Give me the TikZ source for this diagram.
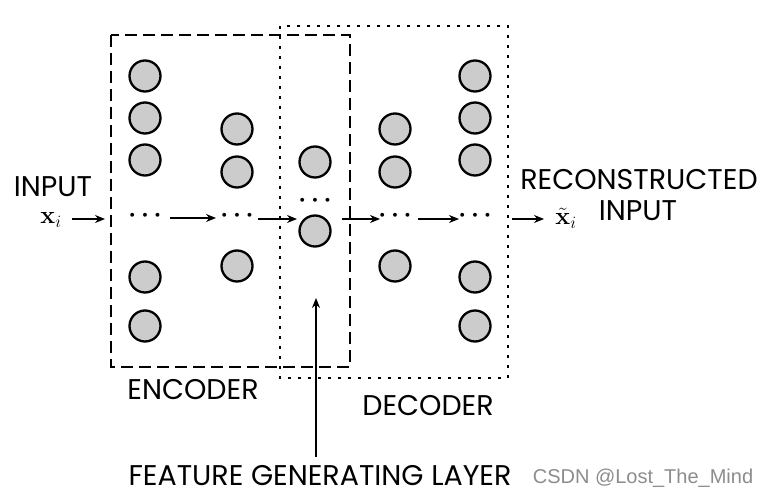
\documentclass[tikz,border=0pt]{standalone}
\usepackage[no-math]{fontspec}
\setmainfont{Poppins}
\newfontfamily\wmfont{Liberation Sans}
\usetikzlibrary{arrows.meta}
\begin{document}
\begin{tikzpicture}[x=1pt,y=-1pt,
  neuron/.style={circle,draw=black,fill=black!20,line width=2.3pt,minimum size=31pt,inner sep=0pt},
  dotsnode/.style={inner sep=0pt,font=\fontsize{30}{30}\selectfont\boldmath},
  lbl/.style={inner sep=0pt,text depth=0pt,text height=20pt,font=\fontsize{28.5}{30}\selectfont},
  mathlbl/.style={inner sep=0pt,font=\fontsize{24}{24}\selectfont},
  conn/.style={line width=1.2pt,-{Stealth[length=10pt,width=8pt]}},
  encbox/.style={line width=2.8pt,dash pattern=on 12pt off 6pt},
  decbox/.style={line width=2.8pt,dash pattern=on 3pt off 7pt,line cap=butt}]
\useasboundingbox (0,0) rectangle (768,494);
% boxes
\draw[encbox] (111,35) rectangle (350,367);
\draw[decbox] (280,26) rectangle (508,378);
% neurons
\foreach \y/\n in {76/a1,118/a2,160/a3,277/a4,326/a5} \node[neuron] (\n) at (145,\y) {};
\foreach \y/\n in {129/b1,172/b2,266/b3} \node[neuron] (\n) at (237,\y) {};
\foreach \y/\n in {162/c1,231/c2} \node[neuron] (\n) at (315,\y) {};
\foreach \y/\n in {129/d1,172/d2,266/d3} \node[neuron] (\n) at (395,\y) {};
\foreach \y/\n in {76/e1,118/e2,160/e3,277/e4,326/e5} \node[neuron] (\n) at (475,\y) {};
% dots
\node[dotsnode] (da) at (145,216) {$\cdots$};
\node[dotsnode] (db) at (237,216) {$\cdots$};
\node[dotsnode] (dc) at (315,201) {$\cdots$};
\node[dotsnode] (dd) at (395,216) {$\cdots$};
\node[dotsnode] (de) at (475,216) {$\cdots$};
% input / output
\node[lbl] (inp) at (53,187) {INPUT};
\node[mathlbl] (xi) at (51,220) {$\mathbf{x}_i$};
\node[mathlbl] (xo) at (566,218) {$\tilde{\mathbf{x}}_i$};
\node[lbl] (rec) at (639,180) {RECONSTRUCTED};
\node[lbl] (rin) at (638,211) {INPUT};
\coordinate (i0) at (72,219);
\coordinate (i1) at (105,219);
\coordinate (o0) at (512,219);
\coordinate (o1) at (544,219);
\draw[conn] (i0) -- (i1);
\draw[conn] (o0) -- (o1);
\coordinate (p1) at (170,218); \coordinate (p2) at (216,218);
\coordinate (p3) at (258,219); \coordinate (p4) at (297,219);
\coordinate (p5) at (342,219); \coordinate (p6) at (380,219);
\coordinate (p7) at (418,219); \coordinate (p8) at (459,219);
\draw[conn] (p1) -- (p2);
\draw[conn] (p3) -- (p4);
\draw[conn] (p5) -- (p6);
\draw[conn] (p7) -- (p8);
% labels
\node[lbl] (enc) at (193,389) {ENCODER};
\node[lbl] (dec) at (428,405) {DECODER};
\node[lbl,anchor=base] (feat) at (320,485) {FEATURE GENERATING LAYER};
\coordinate (f0) at (316,457);
\coordinate (f1) at (316,298);
\draw[conn] (f0) -- (f1);
\node[inner sep=0pt,anchor=base,font=\wmfont\fontsize{20}{20}\selectfont,text=black!45] (wm) at (643,483) {CSDN @Lost\_The\_Mind};
\end{tikzpicture}
\end{document}
